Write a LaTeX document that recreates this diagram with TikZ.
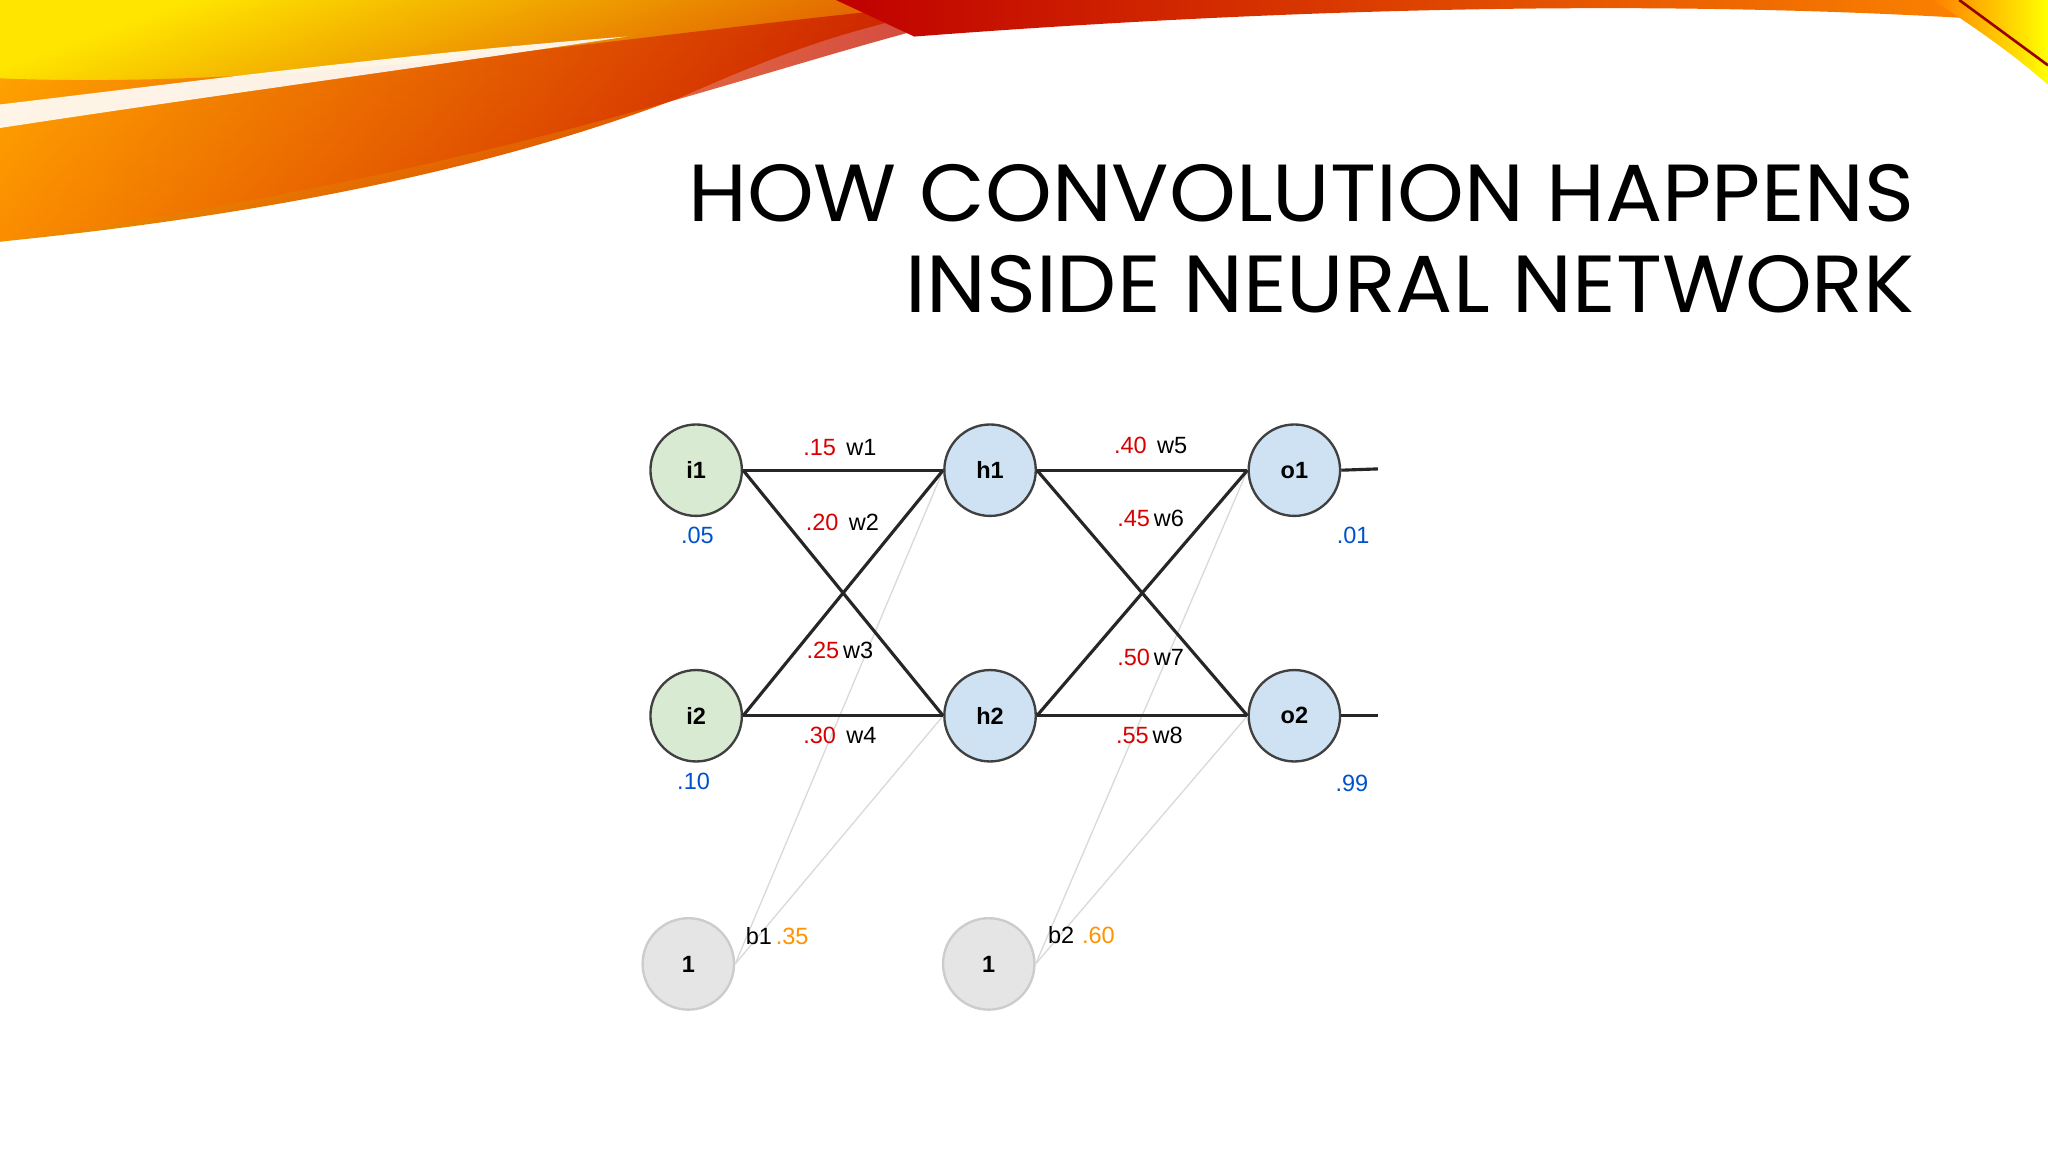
\documentclass[tikz,border=0pt]{standalone}
\usepackage{fontspec}
\setmainfont{Liberation Sans}
\newfontfamily\titlefont{Poppins}
\begin{document}
\begin{tikzpicture}[x=1pt,y=-1pt,
  neuron/.style={circle,draw=black!75,line width=1.8pt,minimum size=70pt,inner sep=0pt,font=\fontsize{18}{20}\selectfont\bfseries},
  wlab/.style={font=\fontsize{18}{20}\selectfont,inner sep=0pt},
  conn/.style={line width=2.4pt,black!85},
  bias/.style={line width=1pt,black!15}]
\definecolor{ingreen}{HTML}{D9EAD3}
\definecolor{hidblue}{HTML}{CFE2F3}
\useasboundingbox (0,0) rectangle (1568,882);
\fill[white] (0,0) rectangle (1568,882);
% swooshes
\shade[top color=yellow!80!orange,bottom color=red!80!black,shading angle=20]
  (0,0) -- (760,0) .. controls (650,20) and (600,40) .. (520,75) .. controls (350,140) and (150,170) .. (0,185) -- cycle;
\shade[left color=orange!90!yellow,right color=red!75!black,opacity=0.75]
  (0,60) .. controls (250,70) and (520,20) .. (760,0) -- (800,0) .. controls (600,40) and (450,120) .. (0,185) -- cycle;
\fill[white,opacity=0.9] (0,80) .. controls (150,62) and (320,40) .. (480,28) .. controls (320,52) and (150,75) .. (0,98) -- cycle;
\shade[left color=red!75!black,right color=orange!90!yellow]
  (640,0) -- (1568,0) -- (1568,18) .. controls (1300,-2) and (1000,5) .. (700,28) -- cycle;
\shade[left color=orange,right color=yellow]
  (1480,0) -- (1568,0) -- (1568,65) .. controls (1540,40) and (1510,20) .. (1480,0) -- cycle;
\draw[red!60!black,line width=2pt] (1500,0) -- (1568,50);
% title
\node[anchor=south east,inner sep=0pt,xscale=1.05,font=\titlefont\fontsize{62}{70}\selectfont] (t1) at (1466,170) {HOW CONVOLUTION HAPPENS};
\node[anchor=south east,inner sep=0pt,xscale=1.05,font=\titlefont\fontsize{62}{70}\selectfont] (t2) at (1466,240) {INSIDE NEURAL NETWORK};
% neurons
\node[neuron,fill=ingreen] (i1) at (533,360) {i1};
\node[neuron,fill=ingreen] (i2) at (533,548) {i2};
\node[neuron,fill=hidblue] (h1) at (758,360) {h1};
\node[neuron,fill=hidblue] (h2) at (758,548) {h2};
\node[neuron,fill=hidblue] (o1) at (991,360) {o1};
\node[neuron,fill=hidblue] (o2) at (991,548) {o2};
\node[neuron,fill=black!10,draw=black!20] (b1) at (527,738) {1};
\node[neuron,fill=black!10,draw=black!20] (b2) at (757,738) {1};
\coordinate (e1) at (1055,359);
\coordinate (e2) at (1055,548);
% bias connectors
\draw[bias] (b1.east) -- (h1.west);
\draw[bias] (b1.east) -- (h2.west);
\draw[bias] (b2.east) -- (o1.west);
\draw[bias] (b2.east) -- (o2.west);
% connectors
\draw[conn] (i1.east) -- (h1.west);
\draw[conn] (i1.east) -- (h2.west);
\draw[conn] (i2.east) -- (h1.west);
\draw[conn] (i2.east) -- (h2.west);
\draw[conn] (h1.east) -- (o1.west);
\draw[conn] (h1.east) -- (o2.west);
\draw[conn] (h2.east) -- (o1.west);
\draw[conn] (h2.east) -- (o2.west);
\draw[conn] (o1.east) -- (e1);
\draw[conn] (o2.east) -- (e2);
% labels
\colorlet{wred}{red!85!black}
\colorlet{vblue}{blue!60!cyan!80!black}
\colorlet{borange}{orange!85!yellow}
\node[wlab] (l1) at (643,343) {\textcolor{wred}{.15}\, w1};
\node[wlab] (l2) at (645,400) {\textcolor{wred}{.20}\, w2};
\node[wlab] (l3) at (643,498) {\textcolor{wred}{.25}\,w3};
\node[wlab] (l4) at (643,563) {\textcolor{wred}{.30}\, w4};
\node[wlab] (l5) at (881,341) {\textcolor{wred}{.40}\, w5};
\node[wlab] (l6) at (881,397) {\textcolor{wred}{.45}\,w6};
\node[wlab] (l7) at (881,503) {\textcolor{wred}{.50}\,w7};
\node[wlab] (l8) at (880,563) {\textcolor{wred}{.55}\,w8};
\node[wlab,text=vblue] (v1) at (534,410) {.05};
\node[wlab,text=vblue] (v2) at (531,598) {.10};
\node[wlab,text=vblue] (v3) at (1036,410) {.01};
\node[wlab,text=vblue] (v4) at (1035,600) {.99};
\node[wlab] (bl1) at (595,717) {b1\,\textcolor{borange}{.35}};
\node[wlab] (bl2) at (828,716) {b2\,\,\textcolor{borange}{.60}};
\end{tikzpicture}
\end{document}
